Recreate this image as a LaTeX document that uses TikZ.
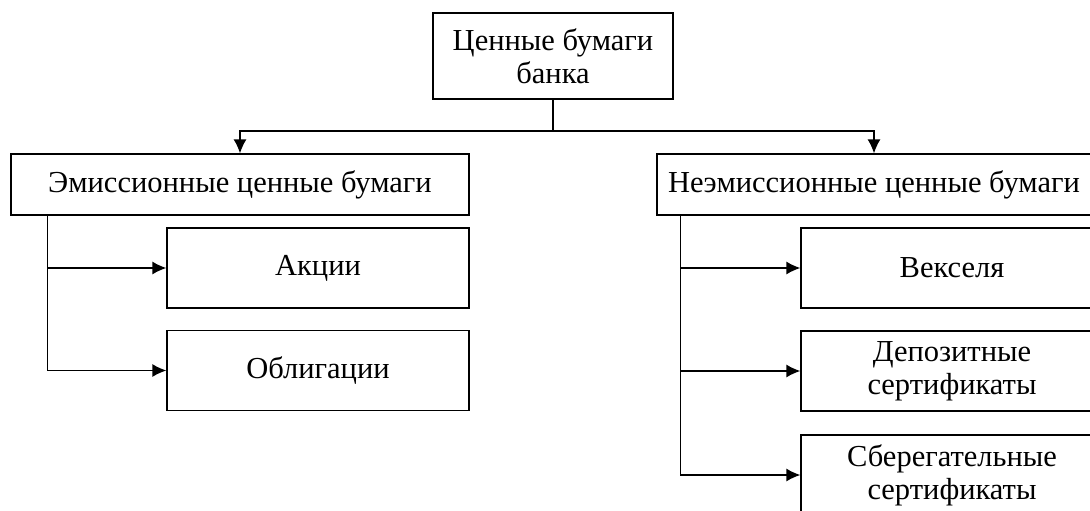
\documentclass[tikz,border=0pt]{standalone}
\usepackage{fontspec}
\setmainfont{Liberation Serif}
\usepackage{tikz}
\usetikzlibrary{arrows.meta}

\begin{document}
\begin{tikzpicture}[x=1pt,y=-1pt]
  \tikzset{box/.style={draw,line width=1.3pt,align=center,inner sep=0pt,
      font=\fontsize{30.5}{33}\selectfont}}
  \tikzset{link/.style={line width=1.3pt}}
  \tikzset{transition/.style={link,-{Latex[length=14pt,width=13pt]}}}
  \clip (0,0) rectangle (1090,511);
  \node[box,minimum width=240pt,minimum height=86pt] (bank) at (553,56) {Ценные бумаги\\банка};
  \node[box,minimum width=458pt,minimum height=61pt] (emis) at (240,184.5) {Эмиссионные ценные бумаги};
  \node[box,minimum width=434pt,minimum height=61pt] (neem) at (874,184.5) {Неэмиссионные ценные бумаги};
  \node[box,minimum width=302pt,minimum height=80pt] (akc) at (318,268) {Акции};
  \node[box,minimum width=302pt,minimum height=80pt] (obl) at (318,370.5) {Облигации};
  \node[box,minimum width=302pt,minimum height=80pt] (veks) at (952,268) {Векселя};
  \node[box,minimum width=302pt,minimum height=80pt] (depo) at (952,371) {Депозитные\\сертификаты};
  \node[box,minimum width=302pt,minimum height=80pt] (sber) at (952,475) {Сберегательные\\сертификаты};
  \coordinate (split) at (553,131);
  \draw[link] (bank) -- (split);
  \draw[transition] (split) -| (emis);
  \draw[transition] (split) -| (neem);
  \draw[transition] ([xshift=37pt]emis.south west) |- (akc);
  \draw[transition] ([xshift=37pt]emis.south west) |- (obl);
  \draw[transition] ([xshift=24pt]neem.south west) |- (veks);
  \draw[transition] ([xshift=24pt]neem.south west) |- (depo);
  \draw[transition] ([xshift=24pt]neem.south west) |- (sber);
\end{tikzpicture}
\end{document}
